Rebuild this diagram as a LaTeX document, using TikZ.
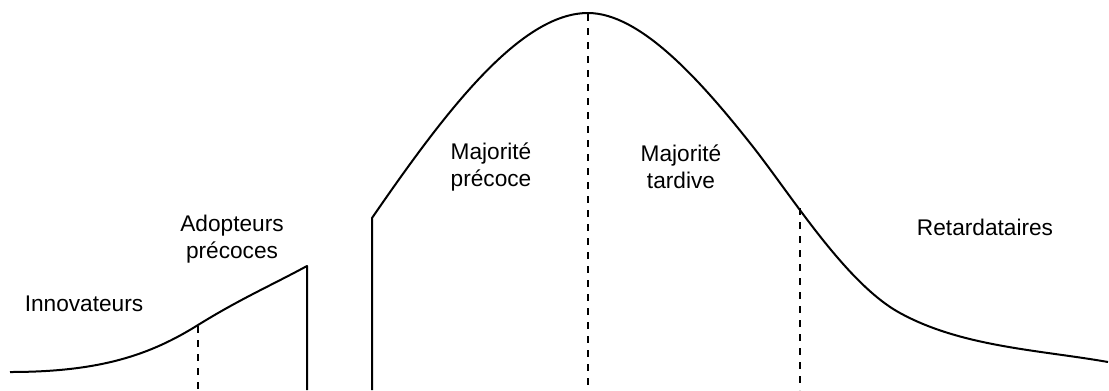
\documentclass[tikz,border=0pt]{standalone}
\usepackage{fontspec}
\setmainfont{Liberation Sans}
\begin{document}
\begin{tikzpicture}[x=0.75pt,y=-0.75pt,
  curve/.style={line width=1.5pt, line join=round},
  split/.style={line width=1.4pt, dash pattern=on 5.5pt off 5pt},
  lbl/.style={font=\fontsize{17}{20}\selectfont, align=center, inner sep=0pt}]
\useasboundingbox (0,0) rectangle (1109,390);
% early market
\draw[curve] (10,372) .. controls (100,372) and (150,355) .. (198,325)
  .. controls (240,299) and (270,286) .. (307,266) -- (307,390);
% mainstream market
\draw[curve] (372,390) -- (372,218) .. controls (445,112) and (520,13) .. (588,13)
  .. controls (640,13) and (700,80) .. (750,143)
  .. controls (790,193) and (845,283) .. (900,313)
  .. controls (962,347) and (1040,350) .. (1108,362);
% segment limits
\draw[split] (198,326) -- (198,390);
\draw[split] (588,14) -- (588,390);
\draw[split] (800,208) -- (800,390);
% labels
\node[lbl, anchor=base] (innov) at (84,311) {Innovateurs};
\node[lbl] (adopt) at (232,239) {Adopteurs\\précoces};
\node[lbl] (majp) at (491,167) {Majorité\\précoce};
\node[lbl] (majt) at (681,167) {Majorité\\tardive};
\node[lbl, anchor=base] (retard) at (985,235) {Retardataires};
\end{tikzpicture}
\end{document}
